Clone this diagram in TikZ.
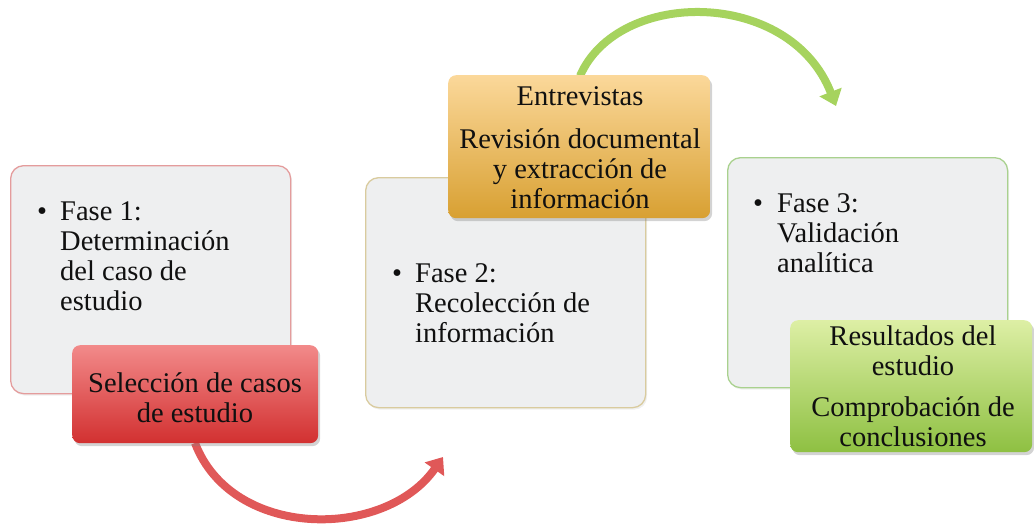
\documentclass[tikz,border=0pt]{standalone}
\usepackage{fontspec}
\setmainfont{Liberation Serif}
\usetikzlibrary{shadows,arrows.meta}
\definecolor{boxgray}{HTML}{EEEFF0}
\definecolor{redline}{HTML}{E49C9C}
\definecolor{tanline}{HTML}{D9CB9E}
\definecolor{greenline}{HTML}{A9D18E}
\definecolor{redtop}{HTML}{F28A8A}
\definecolor{redbot}{HTML}{D23030}
\definecolor{orangetop}{HTML}{FBD89A}
\definecolor{orangebot}{HTML}{D8A032}
\definecolor{greentop}{HTML}{DDEFA5}
\definecolor{greenbot}{HTML}{8EC042}
\definecolor{redarrow}{HTML}{E05858}
\definecolor{greenarrow}{HTML}{A6D35E}
\definecolor{ink}{HTML}{101010}
\begin{document}
\begin{tikzpicture}[x=1pt,y=-1pt,
  phasebox/.style={draw, line width=1.3pt, rounded corners=13pt, fill=boxgray,
    anchor=north west, inner sep=0pt,
    drop shadow={opacity=0.12, shadow xshift=1.5pt, shadow yshift=-2pt}},
  accentbox/.style={rounded corners=8pt, anchor=north west, inner sep=0pt,
    drop shadow={opacity=0.35, shadow xshift=2pt, shadow yshift=-3pt}},
  txt/.style={inner sep=0pt, text=ink, font=\fontsize{28.5}{30}\selectfont},
  curvearrow/.style={line width=8pt, -{Triangle[width=23pt,length=15pt]}}
]
\useasboundingbox (0,0) rectangle (1034,528);

% phase boxes
\node[phasebox, draw=redline, minimum width=280pt, minimum height=228pt] (b1) at (10,165) {};
\node[phasebox, draw=tanline, minimum width=280pt, minimum height=230pt] (b2) at (365,177) {};
\node[phasebox, draw=greenline, minimum width=280pt, minimum height=230pt] (b3) at (727,157) {};

% bullet texts
\node[txt, anchor=base west] (t1) at (37,220) {\begin{tabular}[t]{@{}p{23pt}@{}l@{}}\textbullet & Fase 1:\\ & Determinación\\ & del caso de\\ & estudio\end{tabular}};
\node[txt, anchor=base west] (t2) at (392,282) {\begin{tabular}[t]{@{}p{23pt}@{}l@{}}\textbullet & Fase 2:\\ & Recolección de\\ & información\end{tabular}};
\node[txt, anchor=base west] (t3) at (753,212) {\begin{tabular}[t]{@{}p{24pt}@{}l@{}}\textbullet & Fase 3:\\ & Validación\\ & analítica\end{tabular}};

% curved arrows
\coordinate (r0) at (195,443);
\coordinate (r1) at (443,457);
\coordinate (g0) at (580,76);
\coordinate (g1) at (836,106);
\draw[curvearrow, redarrow] (r0) .. controls (232,540) and (385,540) .. (r1);
\draw[curvearrow, greenarrow] (g0) .. controls (618,-12) and (790,-12) .. (g1);

% accent boxes
\node[accentbox, top color=redtop, bottom color=redbot, minimum width=246pt, minimum height=98pt] (s1) at (72,345) {};
\node[accentbox, top color=orangetop, bottom color=orangebot, minimum width=262pt, minimum height=143pt] (s2) at (448,75) {};
\node[accentbox, top color=greentop, bottom color=greenbot, minimum width=242pt, minimum height=132pt] (s3) at (790,320) {};

\node[txt, anchor=base] (u1) at (195,392) {\begin{tabular}[t]{@{}c@{}}Selección de casos\\ de estudio\end{tabular}};
\node[txt, anchor=base] (u2) at (580,105) {\begin{tabular}[t]{@{}c@{}}Entrevistas\\[13pt] Revisión documental\\ y extracción de\\ información\end{tabular}};
\node[txt, anchor=base] (u3) at (913,345) {\begin{tabular}[t]{@{}c@{}}Resultados del\\ estudio\\[11pt] Comprobación de\\ conclusiones\end{tabular}};
\end{tikzpicture}
\end{document}
